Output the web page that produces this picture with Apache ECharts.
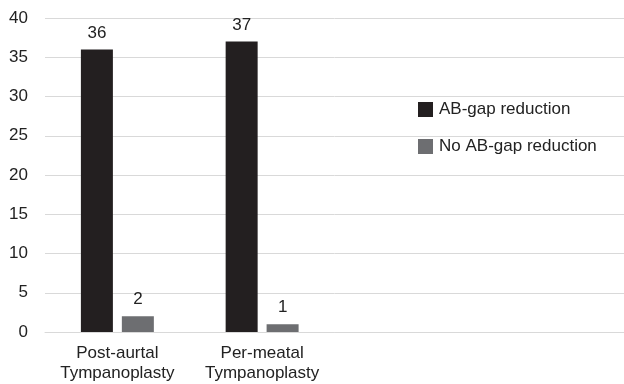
<!DOCTYPE html>
<html><head><meta charset="utf-8">
<script src="https://cdn.jsdelivr.net/npm/echarts@6/dist/echarts.min.js"></script>
<style>html,body{margin:0;padding:0;background:#fff}#c{width:624px;height:384px}</style>
</head><body><div id="c"></div>
<script>
const categories = ['Post-aurtal\nTympanoplasty', 'Per-meatal\nTympanoplasty', '', ''];
const abGapReduction = [36, 37, '-', '-'];
const noAbGapReduction = [2, 1, '-', '-'];
const yTicks = { min: 0, max: 40, interval: 5 };

const font = 'Liberation Sans, Arial, sans-serif';
const chart = echarts.init(document.getElementById('c'));
chart.setOption({
  animation: false,
  textStyle: { fontFamily: font },
  grid: { left: 45, right: 0, top: 18, bottom: 52, containLabel: false },
  legend: {
    orient: 'vertical', left: 413, top: 96,
    itemWidth: 15, itemHeight: 15, itemGap: 20,
    icon: 'rect',
    textStyle: { fontSize: 17, color: '#222', fontFamily: font, padding: [0, 0, 0, 1] },
    data: ['AB-gap reduction', 'No AB-gap reduction']
  },
  xAxis: {
    type: 'category', data: categories,
    axisLine: { lineStyle: { color: '#d9d9d9', width: 1 } },
    axisTick: { show: false },
    axisLabel: { fontSize: 17, color: '#222', lineHeight: 20, margin: 11, fontFamily: font, interval: 0 }
  },
  yAxis: {
    type: 'value', min: yTicks.min, max: yTicks.max, interval: yTicks.interval,
    axisLine: { show: false }, axisTick: { show: false },
    splitLine: { lineStyle: { color: '#d9d9d9', width: 1 } },
    axisLabel: { fontSize: 17, color: '#222', margin: 17, fontFamily: font }
  },
  series: [
    { name: 'AB-gap reduction', type: 'bar', data: abGapReduction, barWidth: 32, barGap: '28%',
      itemStyle: { color: '#231f20' },
      label: { show: true, position: 'top', distance: 8, fontSize: 17, color: '#222', fontFamily: font } },
    { name: 'No AB-gap reduction', type: 'bar', data: noAbGapReduction, barWidth: 32,
      itemStyle: { color: '#6d6e71' },
      label: { show: true, position: 'top', distance: 8, fontSize: 17, color: '#222', fontFamily: font } }
  ]
});
</script></body></html>
